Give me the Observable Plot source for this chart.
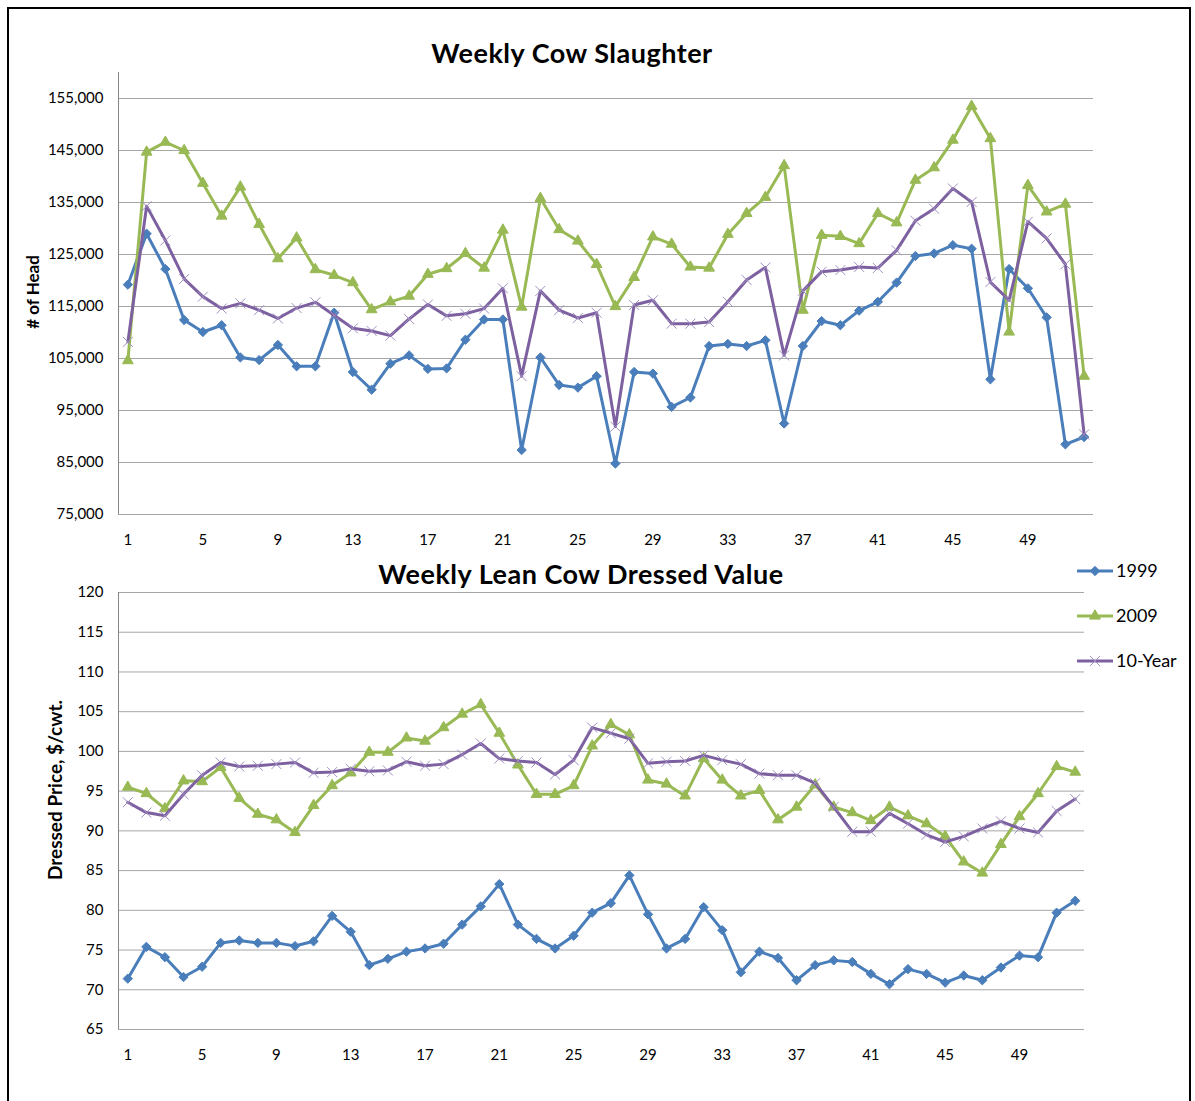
<!DOCTYPE html>
<html>
<head>
<meta charset="utf-8">
<script src="https://cdn.jsdelivr.net/npm/d3@7"></script>
<script src="https://cdn.jsdelivr.net/npm/@observablehq/plot@0.6"></script>
<style>
  body { margin: 0; background: #fff; font-family: Lato, "Open Sans", sans-serif; }
  #root { position: relative; width: 1195px; height: 1101px; overflow: hidden; background: #fff; }
  #frame { position: absolute; left: 7px; top: 7px; width: 1180px; height: 1120px; border: 2px solid #000; }
  .title { position: absolute; font-weight: bold; font-size: 27px; letter-spacing: 0.5px; color: #000; white-space: nowrap; transform: translate(-50%, -50%); }
  .ylab { position: absolute; font-weight: bold; font-size: 17px; color: #000; white-space: nowrap; transform: translate(-50%, -50%) rotate(-90deg); }
  .panel { position: absolute; left: 0; }
  .panel svg { overflow: visible; }
</style>
</head>
<body>
<div id="root">
  <div id="frame"></div>
  <div class="title" style="left:572px;top:52px;">Weekly Cow Slaughter</div>
  <div class="title" style="left:581px;top:573px;">Weekly Lean Cow Dressed Value</div>
  <div class="ylab" style="left:32px;top:292px;"># of Head</div>
  <div class="ylab" style="left:54px;top:790px;font-size:19px;">Dressed Price, $/cwt.</div>
  <div class="panel" id="topPanel" style="top:60px;"></div>
  <div class="panel" id="botPanel" style="top:580px;"></div>
  <svg id="legend" style="position:absolute;left:1070px;top:550px;" width="125" height="130"></svg>
</div>
<script>
// ---------- data ----------
const weeks = [1,2,3,4,5,6,7,8,9,10,11,12,13,14,15,16,17,18,19,20,21,22,23,24,25,26,
               27,28,29,30,31,32,33,34,35,36,37,38,39,40,41,42,43,44,45,46,47,48,49,50,51,52];
const seriesNames = ["1999", "2009", "10-Year"];
const xTickWeeks = [1,5,9,13,17,21,25,29,33,37,41,45,49];

const slaughterTicks = [75000,85000,95000,105000,115000,125000,135000,145000,155000];
const priceTicks = [65,70,75,80,85,90,95,100,105,110,115,120];

const slaughter1999 = [119200,129000,122200,112400,110100,111400,105200,104700,107600,103500,
  103500,113800,102400,99000,104000,105600,103000,103100,108600,112500,112500,87400,105200,
  99900,99400,101600,84800,102400,102100,95700,97500,107400,107800,107400,108500,92500,107400,
  112200,111400,114200,115900,119600,124700,125200,126800,126100,101000,122200,118500,112900,
  88500,89900];
const slaughter2009 = [104600,144700,146600,145000,138700,132400,138000,130800,124200,128200,
  122100,121000,119600,114400,115900,117000,121200,122300,125200,122400,129700,114900,135800,
  129800,127600,123100,115000,120600,128400,127000,122600,122400,128900,132900,136000,142100,
  114300,128700,128500,127100,132900,131100,139300,141700,147000,153500,147300,110100,138300,
  133200,134700,101600];
const slaughter10yr = [108200,134300,127700,120300,116900,114600,115600,114300,112700,114700,
  115800,113300,110800,110300,109400,112600,115400,113200,113600,114600,118500,101600,118000,
  114300,112800,113800,91900,115300,116200,111700,111700,112000,115900,120100,122500,105600,
  118000,121700,122000,122600,122400,125800,131500,133800,137700,135100,119700,116200,131300,
  128100,123100,90400];

const price1999 = [71.4,75.4,74.1,71.6,72.9,75.9,76.2,75.9,75.9,75.5,76.1,79.3,77.3,73.1,73.9,
  74.8,75.2,75.8,78.2,80.5,83.3,78.2,76.4,75.2,76.8,79.7,80.9,84.4,79.5,75.2,76.4,80.4,77.5,
  72.2,74.8,74.0,71.2,73.1,73.7,73.5,72.0,70.7,72.6,72.0,70.9,71.8,71.2,72.8,74.3,74.1,79.7,81.2];
const price2009 = [95.5,94.7,92.8,96.3,96.2,98.0,94.1,92.1,91.4,89.8,93.2,95.7,97.3,99.9,99.9,
  101.7,101.3,103.0,104.7,105.9,102.3,98.3,94.6,94.6,95.7,100.7,103.4,102.1,96.4,95.9,94.4,99.1,
  96.4,94.4,95.1,91.4,93.0,95.8,93.0,92.3,91.3,93.0,91.9,90.9,89.3,86.1,84.7,88.3,91.8,94.7,98.1,97.4];
const price10yr = [93.6,92.3,91.9,94.6,97.0,98.6,98.1,98.2,98.4,98.6,97.3,97.4,97.8,97.5,97.6,
  98.7,98.2,98.4,99.6,101.0,99.1,98.8,98.6,97.1,98.9,103.0,102.3,101.6,98.5,98.7,98.8,99.5,98.9,
  98.4,97.2,97.0,97.0,96.0,93.0,89.9,89.9,92.2,90.9,89.5,88.6,89.3,90.3,91.2,90.3,89.8,92.5,94.0];

// ---------- styles ----------
const style = {
  "1999":    { line: "#4A7EBB", symbol: "diamond2", fill: "#4A7EBB", stroke: "#4A7EBB", r: 4.2, sw: 1 },
  "2009":    { line: "#98B954", symbol: "triangle", fill: "#98B954", stroke: "#98B954", r: 4.0, sw: 1 },
  "10-Year": { line: "#7D60A0", symbol: "times",    fill: "none",    stroke: "#A08FC2", r: 4.6, sw: 1 }
};

function rowsOf(arr) { return weeks.map((w, i) => ({ week: w, value: arr[i] })); }

function seriesMarks(name, arr) {
  const s = style[name];
  const rows = rowsOf(arr);
  return [
    Plot.line(rows, { x: "week", y: "value", stroke: s.line, strokeWidth: 3, strokeLinejoin: "round" }),
    Plot.dot(rows, { x: "week", y: "value", symbol: s.symbol, r: s.r, fill: s.fill, stroke: s.stroke, strokeWidth: s.sw })
  ];
}

const common = {
  width: 1195,
  style: { fontFamily: "Lato, 'Open Sans', sans-serif", fontSize: "15px", color: "#000", background: "transparent", overflow: "visible" }
};

// ---------- top chart ----------
const topChart = Plot.plot({
  ...common,
  height: 500,
  marginTop: 12, marginBottom: 46, marginLeft: 118, marginRight: 102,
  x: { type: "linear", domain: [0.5, 52.5] },
  y: { domain: [75000, 160000] },
  marks: [
    Plot.ruleY(slaughterTicks, { stroke: "#a6a6a6", strokeWidth: 1 }),
    Plot.ruleX([0.5], { y1: 75000, y2: 160000, stroke: "#868686", strokeWidth: 1 }),
    Plot.axisY(slaughterTicks, { tickSize: 0, tickPadding: 15, tickFormat: d3.format(","), label: null, fill: "#000" }),
    Plot.axisX(xTickWeeks, { tickSize: 0, tickPadding: 20, tickFormat: d => String(d), label: null, fill: "#000" }),
    ...seriesMarks("1999", slaughter1999),
    ...seriesMarks("2009", slaughter2009),
    ...seriesMarks("10-Year", slaughter10yr)
  ]
});
document.getElementById("topPanel").appendChild(topChart);

// ---------- bottom chart ----------
const botChart = Plot.plot({
  ...common,
  height: 500,
  marginTop: 12, marginBottom: 51, marginLeft: 118, marginRight: 111,
  x: { type: "linear", domain: [0.5, 52.5] },
  y: { domain: [65, 120] },
  marks: [
    Plot.ruleY(priceTicks, { stroke: "#a6a6a6", strokeWidth: 1 }),
    Plot.ruleX([0.5], { y1: 65, y2: 120, stroke: "#868686", strokeWidth: 1 }),
    Plot.axisY(priceTicks, { tickSize: 0, tickPadding: 15, tickFormat: d => String(d), label: null, fill: "#000" }),
    Plot.axisX(xTickWeeks, { tickSize: 0, tickPadding: 20, tickFormat: d => String(d), label: null, fill: "#000" }),
    ...seriesMarks("1999", price1999),
    ...seriesMarks("2009", price2009),
    ...seriesMarks("10-Year", price10yr)
  ]
});
document.getElementById("botPanel").appendChild(botChart);

// ---------- legend ----------
const legend = d3.select("#legend");
const legendSymbols = { "1999": d3.symbolDiamond2, "2009": d3.symbolTriangle, "10-Year": d3.symbolTimes };
seriesNames.forEach((name, i) => {
  const s = style[name];
  const cy = 21 + 45 * i;
  const g = legend.append("g").attr("transform", `translate(0,${cy})`);
  g.append("line").attr("x1", 7).attr("x2", 43).attr("y1", 0).attr("y2", 0)
    .attr("stroke", s.line).attr("stroke-width", 3);
  g.append("path").attr("transform", "translate(25,0)")
    .attr("d", d3.symbol(legendSymbols[name], s.r * s.r * Math.PI)())
    .attr("fill", s.fill).attr("stroke", s.stroke).attr("stroke-width", s.sw);
  g.append("text").attr("x", 46).attr("y", 0).attr("dy", "0.35em")
    .attr("font-family", "Lato, 'Open Sans', sans-serif").attr("font-size", 18).attr("fill", "#000")
    .text(name);
});
</script>
</body>
</html>
